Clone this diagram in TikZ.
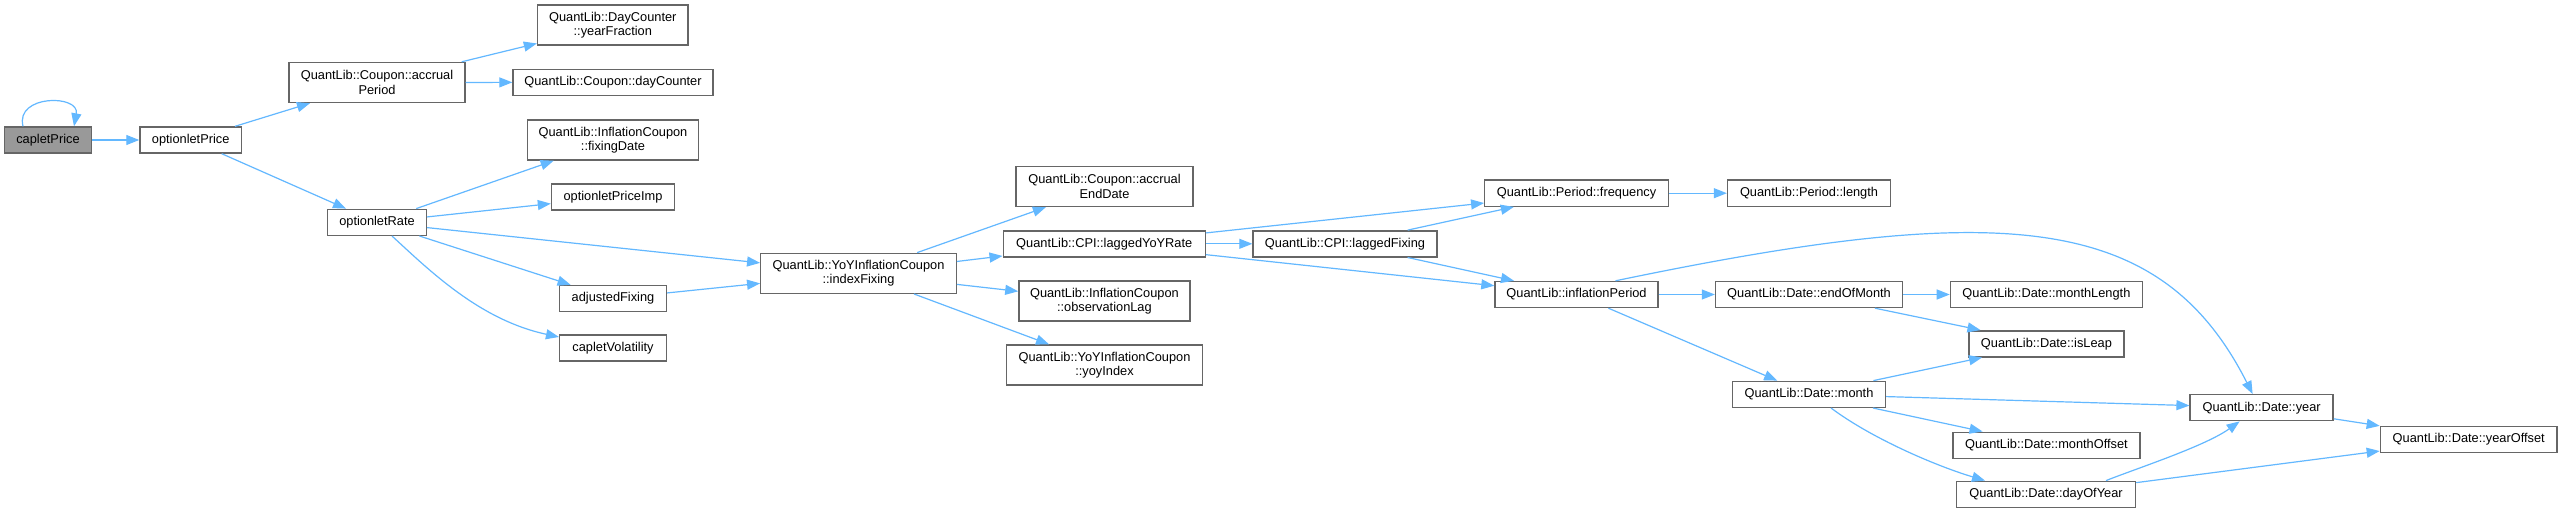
\documentclass[tikz,border=0pt]{standalone}
\usepackage{fontspec}
\setmainfont{Liberation Sans}
\usetikzlibrary{arrows.meta}
\definecolor{edgeblue}{HTML}{63B8FF}
\definecolor{boxborder}{HTML}{666666}
\definecolor{rootgray}{HTML}{999999}
\tikzset{
  box/.style={draw=boxborder, line width=1.4pt, fill=white, inner sep=0pt, minimum height=26pt, align=center, font=\fontsize{12.8}{14.5}\selectfont},
  dbox/.style={box, minimum height=40pt},
  edge/.style={draw=edgeblue, line width=1.2pt, -{Triangle[length=13pt,width=10pt]}},
}
\begin{document}
\begin{tikzpicture}[x=1pt,y=-1pt]
\useasboundingbox[fill=white] (0,0) rectangle (2563,513);
% nodes
\node[box, fill=rootgray, minimum width=87.5pt] (cp) at (48,140) {capletPrice};
\node[box, minimum width=101.5pt] (op) at (190.7,140) {optionletPrice};
\node[dbox, minimum width=176pt] (ap) at (377,82.5) {QuantLib::Coupon::accrual\\Period};
\node[dbox, minimum width=150.5pt] (yf) at (612.8,25) {QuantLib::DayCounter\\::yearFraction};
\node[box, minimum width=200pt] (dc) at (613,82.3) {QuantLib::Coupon::dayCounter};
\node[dbox, minimum width=171pt] (fd) at (613,140) {QuantLib::InflationCoupon\\::fixingDate};
\node[box, minimum width=123pt] (opi) at (613,197) {optionletPriceImp};
\node[box, minimum width=98.6pt] (or) at (377,222.3) {optionletRate};
\node[box, minimum width=106.7pt] (af) at (613,298.5) {adjustedFixing};
\node[box, minimum width=106.7pt] (cv) at (613,348) {capletVolatility};
\node[dbox, minimum width=195.5pt] (ifx) at (858.5,273.3) {QuantLib::YoYInflationCoupon\\::indexFixing};
\node[dbox, minimum width=177pt] (aed) at (1104.5,186.5) {QuantLib::Coupon::accrual\\EndDate};
\node[box, minimum width=202pt] (lyr) at (1104.2,243.8) {QuantLib::CPI::laggedYoYRate};
\node[dbox, minimum width=171pt] (ol) at (1104.4,301) {QuantLib::InflationCoupon\\::observationLag};
\node[dbox, minimum width=195.5pt] (yi) at (1104.5,365) {QuantLib::YoYInflationCoupon\\::yoyIndex};
\node[box, minimum width=184pt] (lf) at (1345,243.8) {QuantLib::CPI::laggedFixing};
\node[box, minimum width=183.5pt] (fr) at (1576.5,193.2) {QuantLib::Period::frequency};
\node[box, minimum width=163pt] (len) at (1809,193.2) {QuantLib::Period::length};
\node[box, minimum width=163pt] (ip) at (1576.5,294.5) {QuantLib::inflationPeriod};
\node[box, minimum width=187pt] (eom) at (1809,294.5) {QuantLib::Date::endOfMonth};
\node[box, minimum width=153pt] (mo) at (1809,394.3) {QuantLib::Date::month};
\node[box, minimum width=192pt] (ml) at (2046.4,294.5) {QuantLib::Date::monthLength};
\node[box, minimum width=155pt] (il) at (2046.4,343.8) {QuantLib::Date::isLeap};
\node[box, minimum width=187pt] (mof) at (2046.4,445.2) {QuantLib::Date::monthOffset};
\node[box, minimum width=179pt] (doy) at (2046,494.3) {QuantLib::Date::dayOfYear};
\node[box, minimum width=143pt] (yr) at (2261.6,407.7) {QuantLib::Date::year};
\node[box, minimum width=176.7pt] (yo) at (2468.7,439.5) {QuantLib::Date::yearOffset};
% edges
\draw[edge] ([xshift=-25pt]cp.north) .. controls +(-8,-32) and +(6,-32) .. ([xshift=26pt]cp.north);
\draw[edge] (cp) -- (op);
\draw[edge] (op) -- (ap);
\draw[edge] (op) -- (or);
\draw[edge] (ap) -- (yf);
\draw[edge] (ap) -- (dc);
\draw[edge] (or) -- (fd);
\draw[edge] (or) -- (opi);
\draw[edge] (or) -- (ifx);
\draw[edge] (or) -- (af);
\draw[edge] ([xshift=15pt]or.south) .. controls +(38,35) and +(-79,-17) .. ([yshift=11pt]cv.west);
\draw[edge] (af) -- (ifx);
\draw[edge] (ifx) -- (aed);
\draw[edge] (ifx) -- (lyr);
\draw[edge] (ifx) -- (ol);
\draw[edge] (ifx) -- (yi);
\draw[edge] (lyr) -- (lf);
\draw[edge] (lyr) -- (fr);
\draw[edge] (lyr) -- (ip);
\draw[edge] (lf) -- (fr);
\draw[edge] (lf) -- (ip);
\draw[edge] (fr) -- (len);
\draw[edge] (ip) -- (eom);
\draw[edge] (ip) -- (mo);
\draw[edge] ([xshift=39pt]ip.north) .. controls +(384.5,-80) and +(-92.6,-183) .. ([xshift=-9pt]yr.north);
\draw[edge] (eom) -- (ml);
\draw[edge] (eom) -- (il);
\draw[edge] (mo) -- (il);
\draw[edge] (mo) -- (yr);
\draw[edge] (mo) -- (mof);
\draw[edge] ([xshift=22pt]mo.south) .. controls +(40,30) and +(-50,-15) .. ([xshift=-61pt]doy.north);
\draw[edge] (yr) -- (yo);
\draw[edge] ([xshift=60pt]doy.north) .. controls +(30,-12) and +(-35,25) .. ([xshift=-22pt]yr.south);
\draw[edge] (doy) -- (yo);
\end{tikzpicture}
\end{document}
